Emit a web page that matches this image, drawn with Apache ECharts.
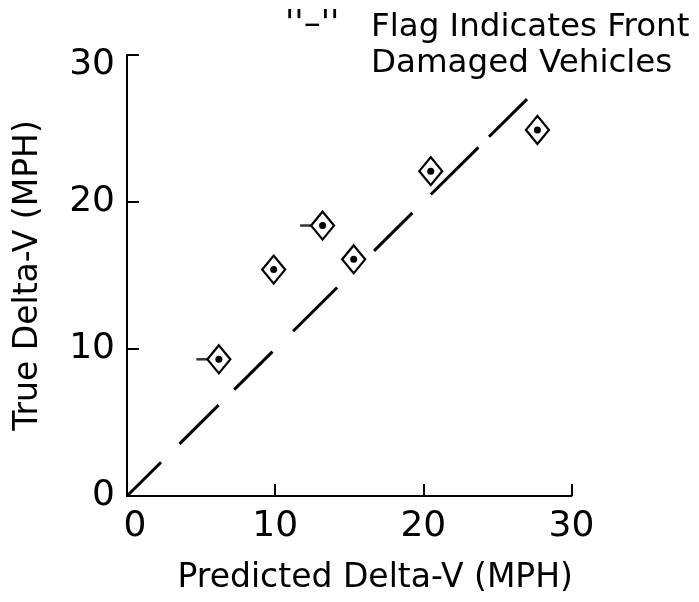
<!DOCTYPE html>
<html>
<head>
<meta charset="utf-8">
<script src="https://cdn.jsdelivr.net/npm/echarts@6/dist/echarts.min.js"></script>
<style>
  html, body { margin: 0; padding: 0; background: #fff; }
  #chart { width: 699px; height: 602px; }
</style>
</head>
<body>
<div id="chart"></div>
<script>
// Predicted vs. true delta-V for each test vehicle (MPH)
const predicted = [6.2, 9.9, 13.2, 15.3, 20.5, 27.7];
const trueDeltaV = [9.3, 15.4, 18.4, 16.1, 22.1, 24.9];
// true = front-damaged vehicle, drawn with a "-" flag
const frontDamaged = [true, false, true, false, false, false];

// Line of perfect agreement (predicted = true)
const refLineX = [0, 27];
const refLineY = [0, 27];

// Axis ticks
const xTicks = [0, 10, 20, 30];
const yTicks = [0, 10, 20, 30];

const FONT = '"DejaVu Sans", "Liberation Sans", sans-serif';

const points = predicted.map((x, i) => [x, trueDeltaV[i]]);
const flagged = points.filter((p, i) => frontDamaged[i]);
const refLine = refLineX.map((x, i) => [x, refLineY[i]]);

const axisCommon = {
  interval: 10,
  axisLine: { show: true, onZero: false, lineStyle: { color: '#000', width: 2 } },
  axisTick: { show: true, inside: true, length: 12, lineStyle: { color: '#000', width: 2 } },
  splitLine: { show: false },
  nameTextStyle: { fontFamily: FONT, fontSize: 33, color: '#000' }
};

const chart = echarts.init(document.getElementById('chart'), null, { renderer: 'canvas' });

chart.setOption({
  backgroundColor: '#fff',
  animation: false,
  title: [
    {
      text: "''\u2013''",
      left: 280,
      top: 3,
      textStyle: { fontFamily: FONT, fontSize: 34, fontWeight: 'normal', color: '#000' }
    },
    {
      text: 'Flag Indicates Front\nDamaged Vehicles',
      left: 366,
      top: 5,
      textStyle: { fontFamily: FONT, fontSize: 32.5, fontWeight: 'normal', color: '#000', lineHeight: 36 }
    }
  ],
  grid: { left: 127, right: 127.5, top: 55, bottom: 106, containLabel: false },
  xAxis: Object.assign({}, axisCommon, {
    type: 'value',
    min: xTicks[0],
    max: xTicks[xTicks.length - 1],
    name: 'Predicted Delta-V (MPH)',
    nameLocation: 'middle',
    nameGap: 66,
    nameTextStyle: Object.assign({}, axisCommon.nameTextStyle, { padding: [0, 0, 0, 52] }),
    axisLabel: {
      margin: 13,
      fontFamily: FONT,
      fontSize: 36,
      color: '#000',
      formatter: v => (v === 0 ? '{z|0}' : String(v)),
      rich: { z: { fontFamily: FONT, fontSize: 36, color: '#000', padding: [0, 0, 0, 16] } }
    }
  }),
  yAxis: Object.assign({}, axisCommon, {
    type: 'value',
    min: yTicks[0],
    max: yTicks[yTicks.length - 1],
    name: 'True Delta-V (MPH)',
    nameLocation: 'middle',
    nameRotate: 90,
    nameGap: 82,
    axisLabel: {
      margin: 12,
      fontFamily: FONT,
      fontSize: 36,
      color: '#000',
      formatter: v => (v === 30 ? '{t|30}' : String(v)),
      rich: { t: { fontFamily: FONT, fontSize: 36, color: '#000', padding: [20, 0, 0, 0] } }
    }
  }),
  series: [
    {
      name: 'Agreement',
      type: 'line',
      data: refLine,
      symbol: 'none',
      silent: true,
      z: 1,
      lineStyle: {
        color: '#000',
        width: 3,
        cap: 'butt',
        type: [48, 26, 55, 22, 54, 29, 62, 52, 54, 26, 67, 15, 55, 100]
      }
    },
    {
      name: 'Flag',
      type: 'scatter',
      data: flagged,
      symbol: 'rect',
      symbolSize: [11, 2.5],
      symbolOffset: [-17, 0],
      itemStyle: { color: '#000' },
      z: 3
    },
    {
      name: 'Vehicle',
      type: 'scatter',
      data: points,
      symbol: 'diamond',
      symbolSize: [23, 28],
      itemStyle: { color: '#fff', borderColor: '#000', borderWidth: 2.2, opacity: 1 },
      z: 4
    },
    {
      name: 'Centre',
      type: 'scatter',
      data: points,
      symbol: 'circle',
      symbolSize: 7,
      itemStyle: { color: '#000', opacity: 1 },
      z: 5
    }
  ]
});
</script>
</body>
</html>
